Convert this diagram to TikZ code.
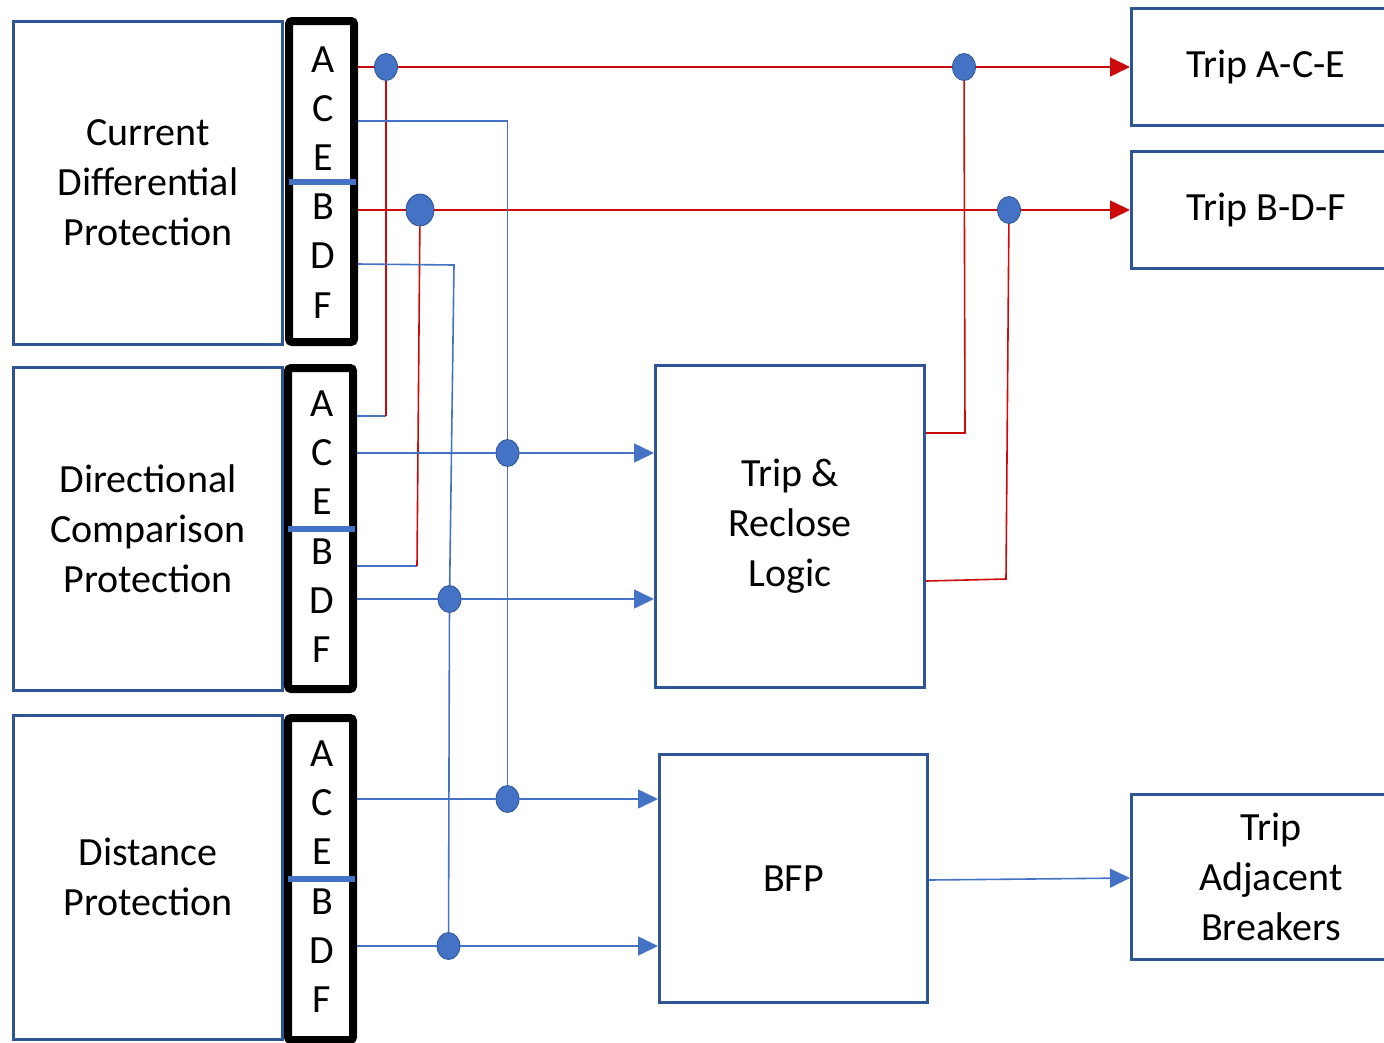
\documentclass[tikz,border=0pt]{standalone}
\usepackage{fontspec}
\setmainfont{Carlito}
\usetikzlibrary{positioning}
\usetikzlibrary{arrows.meta}
\usetikzlibrary{shapes.geometric}
\definecolor{boxblue}{RGB}{47,85,151}
\definecolor{lineblue}{RGB}{68,114,196}
\definecolor{tripred}{RGB}{204,10,10}

\begin{document}
\begin{tikzpicture}
    [block/.style={draw=boxblue, line width=3pt, align=center, inner sep=0pt, font=\fontsize{40}{50}\selectfont},
    bar/.style={draw=black, line width=8pt, rounded corners=3pt, minimum width=65pt, minimum height=321pt, inner sep=0pt},
    letter/.style={anchor=base, inner sep=0pt, font=\fontsize{40}{50}\selectfont},
    split/.style={draw=lineblue, line width=6pt},
    dot/.style={ellipse, fill=lineblue, draw=boxblue, line width=0.8pt, minimum width=23pt, minimum height=27pt, inner sep=0pt},
    sig/.style={lineblue, line width=1.6pt},
    trip/.style={tripred, line width=1.6pt},
    tip/.style={-{Triangle[length=20pt, width=19pt]}},
    x=1pt, y=-1pt]
    \useasboundingbox (0,0) rectangle (1384,1042);
    %\draw[step=100, gray, very thin] (0,0) grid (1384,1042);
    \node[block, minimum width=269pt, minimum height=323pt] (cdp) at (148, 183)   {Current\\Differential\\Protection};
    \node[block, minimum width=269pt, minimum height=323pt] (dcp) at (148, 528.5) {Directional\\Comparison\\Protection};
    \node[block, minimum width=269pt, minimum height=324pt] (dsp) at (148, 877)   {Distance\\Protection};
    \node[block, minimum width=269pt, minimum height=117pt] (tace) at (1266, 67)  {Trip A-C-E};
    \node[block, minimum width=269pt, minimum height=117pt] (tbdf) at (1266, 210) {Trip B-D-F};
    \node[block, minimum width=269pt, minimum height=322pt] (trl) at (790, 526.5)  {Trip \&\\Reclose\\Logic};
    \node[block, minimum width=268pt, minimum height=248pt] (bfp) at (793.5, 878.5) {BFP};
    \node[block, minimum width=279pt, minimum height=165pt] (tab) at (1271, 877) {Trip\\Adjacent\\Breakers};

    \node[bar] (cdbar) at (321.5, 181.5) {};
    \node[bar] (dcbar) at (320.5, 528.5) {};
    \node[bar, minimum height=322pt] (dsbar) at (320.5, 879) {};

    \node[letter] (cdA) at (323, 72)    {A};
    \node[letter] (cdC) at (323, 121.2) {C};
    \node[letter] (cdE) at (323, 170.4) {E};
    \node[letter] (cdB) at (323, 219.6) {B};
    \node[letter] (cdD) at (323, 268.8) {D};
    \node[letter] (cdF) at (323, 318)   {F};
    \node[letter] (dcA) at (322, 416.5) {A};
    \node[letter] (dcC) at (322, 465.7) {C};
    \node[letter] (dcE) at (322, 514.9) {E};
    \node[letter] (dcB) at (322, 564.1) {B};
    \node[letter] (dcD) at (322, 613.3) {D};
    \node[letter] (dcF) at (322, 662.5) {F};
    \node[letter] (dsA) at (322, 766.5) {A};
    \node[letter] (dsC) at (322, 815.7) {C};
    \node[letter] (dsE) at (322, 864.9) {E};
    \node[letter] (dsB) at (322, 914.1) {B};
    \node[letter] (dsD) at (322, 963.3) {D};
    \node[letter] (dsF) at (322, 1012.5) {F};

    \draw[split] ([xshift=4pt]cdbar.west) -- ([xshift=-2pt]cdbar.east);
    \draw[split] ([xshift=4pt]dcbar.west) -- ([xshift=-2pt]dcbar.east);
    \draw[split] ([xshift=4pt]dsbar.west) -- ([xshift=-2pt]dsbar.east);

    \node[dot] (d1) at (386, 67) {};
    \node[dot, minimum width=28pt, minimum height=32pt] (d2) at (420, 210) {};
    \node[dot] (d3) at (964, 67) {};
    \node[dot] (d4) at (1009, 210) {};
    \node[dot] (d5) at (507.5, 453) {};
    \node[dot] (d6) at (449.5, 599) {};
    \node[dot] (d7) at (507.5, 799) {};
    \node[dot] (d8) at (448.5, 946) {};

    \coordinate (cdAout) at (358, 67);
    \coordinate (cdCout) at (358, 121);
    \coordinate (cdBout) at (358, 210);
    \coordinate (cdDout) at (358, 264);
    \coordinate (dcAout) at (357, 416);
    \coordinate (dcCout) at (357, 453);
    \coordinate (dcBout) at (357, 566);
    \coordinate (dcDout) at (357, 599);
    \coordinate (dsCout) at (357, 799);
    \coordinate (dsDout) at (357, 946);
    \coordinate (trlC) at (654, 453);
    \coordinate (trlD) at (654, 599);
    \coordinate (bfpC) at (658, 799);
    \coordinate (bfpD) at (658, 946);
    \coordinate (bfpout) at (929, 880);
    \coordinate (tabin) at (1130, 878);
    \coordinate (trlace) at (926, 433);
    \coordinate (trlbdf) at (926, 581);
    \coordinate (c1) at (386, 416);
    \coordinate (c2) at (417, 566);
    \coordinate (c3) at (965, 433);
    \coordinate (c4) at (1006, 579);
    \coordinate (c5) at (507.5, 121);
    \coordinate (c6) at (454, 265);

    \draw[trip, tip] (cdAout) -- (d1) -- (d3) -- (tace.west);
    \draw[trip, tip] (cdBout) -- (d2) -- (d4) -- (tbdf.west);
    \draw[sig] (dcAout) -- (c1);
    \draw[trip] (c1) -- (d1);
    \draw[sig] (dcBout) -- (c2);
    \draw[trip] (c2) -- (d2);
    \draw[trip] (trlace) -- (c3) -- (d3);
    \draw[trip] (trlbdf) -- (c4) -- (d4);
    \draw[sig] (cdCout) -- (c5) -- (d5);
    \draw[sig] (d5) -- (d7);
    \draw[sig] (cdDout) -- (c6) -- (d6);
    \draw[sig] (d6) -- (d8);
    \draw[sig, tip] (dcCout) -- (d5) -- (trlC);
    \draw[sig, tip] (dcDout) -- (d6) -- (trlD);
    \draw[sig, tip] (dsCout) -- (d7) -- (bfpC);
    \draw[sig, tip] (dsDout) -- (d8) -- (bfpD);
    \draw[sig, tip] (bfpout) -- (tabin);
\end{tikzpicture}
\end{document}
